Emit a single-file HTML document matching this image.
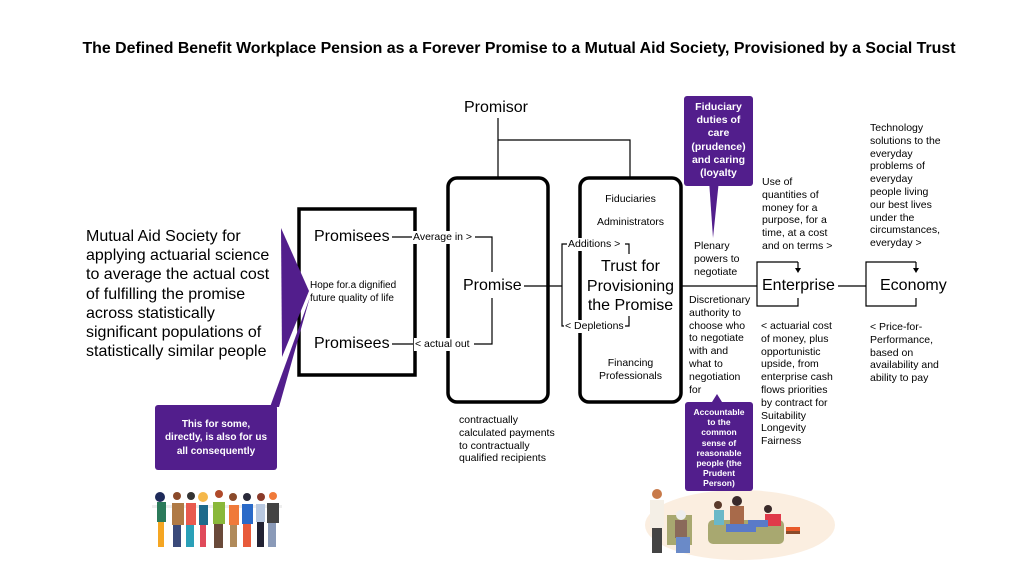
<!DOCTYPE html>
<html><head><meta charset="utf-8"><style>
body{margin:0;width:1024px;height:576px;background:#fff;position:relative;overflow:hidden;font-family:"Liberation Sans",sans-serif;color:#000}
.t{position:absolute;white-space:nowrap}
.s{font-size:10.5px;line-height:12.8px}
.m{font-size:16px}
.c{text-align:center}
.w{background:#fff;padding:0 1px}
.p{position:absolute;background:#521e8c;color:#fff;font-weight:bold;text-align:center;border-radius:3px}
</style></head><body>
<svg width="1024" height="576" style="position:absolute;left:0;top:0">
<g fill="none" stroke="#000" stroke-width="1.2">
<rect x="299" y="209" width="116" height="166" stroke-width="3.5"/>
<rect x="448" y="178" width="100" height="224" rx="9" stroke-width="3.5"/>
<rect x="580" y="178" width="101" height="224" rx="9" stroke-width="3.5"/>
<path d="M498 118V178M498 140H630V178"/>
<path d="M392 237H412M475 237H492V272M392 344H413M474 344H492V298"/>
<path d="M524 286H562M570 244H562V326H570"/>
<path d="M681 286H757"/>
<path d="M798 262H757V306H798V298M838 286H866"/>
<path d="M916 262H866V306H916V298"/>
</g>
<path d="M798 262V270" stroke="#000" stroke-width="1.2"/><path d="M795 268L798 273L801 268Z"/>
<path d="M916 262V270" stroke="#000" stroke-width="1.2"/><path d="M913 268L916 273L919 268Z"/>
<g fill="#521e8c">
<polygon points="281,228 309,291 282,357"/>
<polygon points="270,407 279,407 310,297"/>
<polygon points="709,180 719,180 713,238"/>
<polygon points="712,402 722,402 717,394"/>
</g>
<g>
<rect x="152" y="505" width="130" height="3" fill="#eee"/>
<g fill="#2b7a5a"><rect x="157" y="502" width="9" height="20"/></g>
<circle cx="160" cy="497" r="5" fill="#1e2a5a"/>
<rect x="158" y="522" width="6" height="25" fill="#f5a623"/>
<rect x="172" y="503" width="12" height="22" fill="#b07a45"/><circle cx="177" cy="496" r="4" fill="#8b4a2a"/><rect x="173" y="525" width="8" height="22" fill="#3a4a7a"/>
<rect x="186" y="503" width="10" height="22" fill="#e85a4f"/><circle cx="191" cy="496" r="4" fill="#333"/><rect x="186" y="525" width="8" height="22" fill="#2aa0b8"/>
<rect x="199" y="505" width="9" height="20" fill="#1e6a8a"/><circle cx="203" cy="497" r="5" fill="#f5b84a"/><rect x="200" y="525" width="6" height="22" fill="#e04a5a"/>
<rect x="213" y="502" width="12" height="22" fill="#8ab83a"/><circle cx="219" cy="494" r="4" fill="#b04a2a"/><rect x="214" y="524" width="9" height="24" fill="#6a4a3a"/>
<rect x="229" y="505" width="10" height="20" fill="#f07a3a"/><circle cx="233" cy="497" r="4" fill="#8a4a2a"/><rect x="230" y="525" width="7" height="22" fill="#b08a5a"/>
<rect x="242" y="504" width="11" height="20" fill="#2a6ac8"/><circle cx="247" cy="497" r="4" fill="#2a2a3a"/><rect x="243" y="524" width="8" height="23" fill="#e85a3a"/>
<rect x="256" y="504" width="9" height="18" fill="#b8c8e0"/><circle cx="261" cy="497" r="4" fill="#8a3a2a"/><rect x="257" y="522" width="7" height="25" fill="#223"/>
<rect x="267" y="503" width="12" height="20" fill="#444"/><circle cx="273" cy="496" r="4" fill="#f07a3a"/><rect x="268" y="523" width="8" height="24" fill="#8a9ab8"/>
</g>
<g>
<ellipse cx="740" cy="525" rx="95" ry="35" fill="#fbeee0"/>
<rect x="650" y="500" width="14" height="28" fill="#f4efe6"/><circle cx="657" cy="494" r="5" fill="#c87a4a"/><rect x="652" y="528" width="10" height="25" fill="#444"/>
<rect x="667" y="515" width="25" height="30" fill="#a8a870"/><rect x="675" y="520" width="12" height="18" fill="#8a6a5a"/><circle cx="681" cy="515" r="5" fill="#eee"/><rect x="676" y="537" width="14" height="16" fill="#6a8ac8"/>
<rect x="708" y="520" width="76" height="24" rx="5" fill="#a8a870"/>
<rect x="714" y="510" width="10" height="15" fill="#6ab8c8"/><circle cx="718" cy="505" r="4" fill="#5a3a2a"/>
<rect x="730" y="506" width="14" height="18" fill="#a86a4a"/><circle cx="737" cy="501" r="5" fill="#3a2a2a"/><rect x="726" y="524" width="30" height="8" fill="#5a7ac8"/>
<rect x="765" y="514" width="16" height="12" fill="#e03a4a"/><circle cx="768" cy="509" r="4" fill="#3a2a2a"/><rect x="748" y="520" width="20" height="7" fill="#5a7ac8"/>
<rect x="786" y="527" width="14" height="4" fill="#e85a2a"/><rect x="786" y="531" width="14" height="3" fill="#8a4a2a"/>
</g>
</svg>
<div class="t" style="left:0;width:1038px;top:40px;text-align:center;font-weight:bold;font-size:15.9px">The Defined Benefit Workplace Pension as a Forever Promise to a Mutual Aid Society, Provisioned by a Social Trust</div>
<div class="t" style="left:86px;top:227px;font-size:16px;line-height:19.2px">Mutual Aid Society for<br>applying actuarial science<br>to average the actual cost<br>of fulfilling the promise<br>across statistically<br>significant populations of<br>statistically similar people</div>
<div class="t m" style="left:314px;top:228px">Promisees</div>
<div class="t m" style="left:314px;top:335px">Promisees</div>
<div class="t" style="left:310px;top:279px;font-size:10px;line-height:13px">Hope for.a dignified<br>future quality of life</div>
<div class="t s w" style="left:412px;top:231px">Average in &gt;</div>
<div class="t s w" style="left:414px;top:338px">&lt; actual out</div>
<div class="t m" style="left:463px;top:277px">Promise</div>
<div class="t m" style="left:464px;top:99px">Promisor</div>
<div class="t s w" style="left:567px;top:238px">Additions &gt;</div>
<div class="t s w" style="left:564px;top:320px">&lt; Depletions</div>
<svg width="1024" height="576" style="position:absolute;left:0;top:0"><path d="M625 244H629V254M629 316V326H625" fill="none" stroke="#000" stroke-width="1.2"/></svg>
<div class="t m c" style="left:580px;width:101px;top:257px;line-height:19.5px">Trust for<br>Provisioning<br>the Promise</div>
<div class="t s c" style="left:580px;width:101px;top:193px">Fiduciaries</div>
<div class="t s c" style="left:580px;width:101px;top:216px">Administrators</div>
<div class="t s c" style="left:580px;width:101px;top:357px">Financing<br>Professionals</div>
<div class="t s" style="left:459px;top:414px">contractually<br>calculated payments<br>to contractually<br>qualified recipients</div>
<div class="t s" style="left:694px;top:240px">Plenary<br>powers to<br>negotiate</div>
<div class="t s" style="left:689px;top:294px">Discretionary<br>authority to<br>choose who<br>to negotiate<br>with and<br>what to<br>negotiation<br>for</div>
<div class="t s" style="left:762px;top:176px">Use of<br>quantities of<br>money for a<br>purpose, for a<br>time, at a cost<br>and on terms &gt;</div>
<div class="t m" style="left:762px;top:277px">Enterprise</div>
<div class="t m" style="left:880px;top:277px">Economy</div>
<div class="t s" style="left:761px;top:320px">&lt; actuarial cost<br>of money, plus<br>opportunistic<br>upside, from<br>enterprise cash<br>flows priorities<br>by contract for<br>Suitability<br>Longevity<br>Fairness</div>
<div class="t s" style="left:870px;top:122px">Technology<br>solutions to the<br>everyday<br>problems of<br>everyday<br>people living<br>our best lives<br>under the<br>circumstances,<br>everyday &gt;</div>
<div class="t s" style="left:870px;top:321px">&lt; Price-for-<br>Performance,<br>based on<br>availability and<br>ability to pay</div>
<div class="p" style="left:684px;top:96px;width:69px;height:90px;font-size:10.5px;line-height:13.2px;padding-top:5px;box-sizing:border-box">Fiduciary<br>duties of<br>care<br>(prudence)<br>and caring<br>(loyalty</div>
<div class="p" style="left:685px;top:402px;width:68px;height:89px;font-size:8.5px;line-height:10.2px;padding-top:5px;box-sizing:border-box">Accountable<br>to the<br>common<br>sense of<br>reasonable<br>people (the<br>Prudent<br>Person)</div>
<div class="p" style="left:155px;top:405px;width:122px;height:65px;font-size:10px;line-height:13.3px;padding-top:13px;box-sizing:border-box">This for some,<br>directly, is also for us<br>all consequently</div>
</body></html>
